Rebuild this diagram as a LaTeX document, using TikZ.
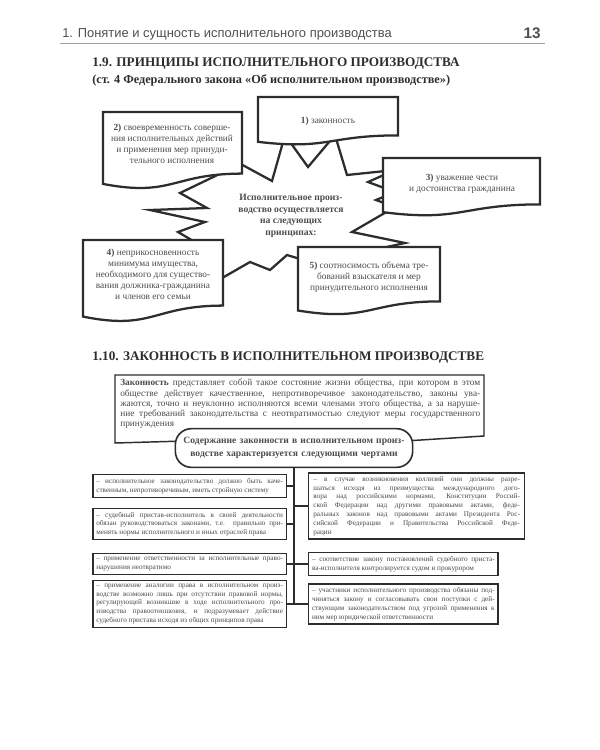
\documentclass[tikz,border=0pt]{standalone}
\usepackage{fontspec}
\setmainfont{Liberation Serif}
\newfontfamily\runfont{Liberation Sans}
\definecolor{ink}{HTML}{2A2F2C}
\definecolor{txt}{HTML}{4B4B4B}
\definecolor{runner}{HTML}{505050}
\definecolor{rulegray}{HTML}{A0A0A0}
\hyphenpenalty=10000
\exhyphenpenalty=10000
\tolerance=10000
\newcommand{\docshape}[4]{%
  \draw[docline] (#1,#2) -- (#3,#2) -- (#3,{#2+0.80*#4})
    .. controls ({(#1+#3)/2},{#2+0.80*#4}) and ({(#1+#3)/2},{#2+1.107*#4}) .. (#1,{#2+0.934*#4}) -- cycle;}

\begin{document}
\begin{tikzpicture}[x=0.75pt, y=-0.75pt,
  docline/.style={draw=ink, line width=1.7pt, fill=white, line join=miter},
  starline/.style={draw=ink, line width=1.7pt, fill=white, line join=miter},
  principle/.style={text=txt, align=center, inner sep=0pt, font=\fontsize{7}{8.3}\selectfont},
  hub/.style={text=ink!85, align=center, inner sep=0pt, font=\bfseries\fontsize{7.2}{8.8}\selectfont},
  runhead/.style={text=runner, inner sep=0pt, font=\runfont\fontsize{9.7}{11}\selectfont},
  heading/.style={anchor=base west, inner sep=0pt, text=ink, font=\bfseries\fontsize{9.9}{12}\selectfont},
  subheading/.style={anchor=base west, inner sep=0pt, text=ink, font=\bfseries\fontsize{9.2}{11}\selectfont},
  frameline/.style={draw=ink, line width=1.1pt, fill=white},
  defn/.style={text=txt, align=justify, anchor=north west, inner sep=0pt, text width=270pt, font=\fontsize{7}{7.6}\selectfont},
  lawbox/.style={draw=ink, line width=1.2pt, fill=white, rounded corners=12pt, text=ink!85, align=center,
    text width=170pt, inner xsep=4pt, minimum height=29pt, font=\bfseries\fontsize{7.2}{9.6}\selectfont},
  featL/.style={draw=ink, line width=1pt, fill=white, text=txt, align=justify, anchor=east,
    text width=140pt, inner xsep=2.5pt, inner ysep=2.6pt, font=\fontsize{5.4}{6.6}\selectfont},
  featR/.style={featL, anchor=west, text width=137pt},
  link/.style={draw=ink, line width=1.1pt}]
\fill[white] (0,0) rectangle (600,750);
\useasboundingbox (0,0) rectangle (600,750);

\node[runhead, anchor=base west] (run) at (62,37) {1. Понятие и сущность исполнительного производства};
\node[runhead, anchor=base east, font=\runfont\bfseries\fontsize{11.5}{13}\selectfont] (folio) at (541,38) {13};
\draw[rulegray, line width=0.5pt] (60,43) -- (545,43);

\node[heading] (title9) at (92,66) {1.9. ПРИНЦИПЫ ИСПОЛНИТЕЛЬНОГО ПРОИЗВОДСТВА};
\node[subheading] (law4) at (92,83) {(ст. 4 Федерального закона «Об исполнительном производстве»)};

\draw[starline] (215,150) -- (272,181) -- (285,135) -- (308,167) -- (335,135) -- (347,175) -- (395,170)
  -- (368,182) -- (395,192) -- (376,200) -- (395,207) -- (352,232) -- (405,243) -- (350,255) -- (310,262)
  -- (287,255) -- (270,270) -- (250,262) -- (210,285) -- (200,245) -- (178,232) -- (205,222) -- (150,210)
  -- (207,208) -- (180,193) -- (232,168) -- cycle;

\docshape{258}{97}{398}{48}
\docshape{103}{112}{242}{77}
\docshape{383}{158}{540}{58}
\docshape{83}{240}{223}{82}
\docshape{298}{247}{440}{68}

\node[principle] (p1) at (328,121) {\textbf{1)} законность};
\node[principle] (p2) at (172,144) {\textbf{2)} своевременность соверше-\\ния исполнительных действий\\и применения мер принуди-\\тельного исполнения};
\node[principle] (p3) at (462,184) {\textbf{3)} уважение чести\\и достоинства гражданина};
\node[principle] (p4) at (153,274) {\textbf{4)} неприкосновенность\\минимума имущества,\\необходимого для существо-\\вания должника-гражданина\\и членов его семьи};
\node[principle] (p5) at (369,277) {\textbf{5)} соотносимость объема тре-\\бований взыскателя и мер\\принудительного исполнения};
\node[hub] (core) at (291,216) {Исполнительное произ-\\водство осуществляется\\на следующих\\принципах:};

\node[heading] (title10) at (92,360) {1.10. ЗАКОННОСТЬ В ИСПОЛНИТЕЛЬНОМ ПРОИЗВОДСТВЕ};

\draw[frameline] (115,375) -- (484,375) -- (484,436) -- (405,441) -- (185,441) -- (115,443) -- cycle;
\node[defn] (defn) at (120,379) {\textbf{Законность} представляет собой такое состояние жизни общества, при котором в этом\linebreak
  обществе действует качественное, непротиворечивое законодательство, законы ува-\linebreak
  жаются, точно и неуклонно исполняются всеми членами этого общества, а за наруше-\linebreak
  ние требований законодательства с неотвратимостью следуют меры государственного\linebreak
  принуждения};
\node[lawbox] (lawbox) at (294,448) {Содержание законности в исполнительном произ-\\водстве характеризуется следующими чертами};

\node[featL] (f1) at (287,486) {– исполнительное законодательство должно быть каче-\linebreak
  ственным, непротиворечивым, иметь стройную систему};
\node[featL] (f2) at (287,524) {– судебный пристав-исполнитель в своей деятельности\linebreak
  обязан руководствоваться законами, т.е. правильно при-\linebreak
  менять нормы исполнительного и иных отраслей права};
\node[featL] (f3) at (287,564) {– применение ответственности за исполнительные право-\linebreak
  нарушения неотвратимо};
\node[featL] (f4) at (287,604) {– применение аналогии права в исполнительном произ-\linebreak
  водстве возможно лишь при отсутствии правовой нормы,\linebreak
  регулирующей возникшие в ходе исполнительного про-\linebreak
  изводства правоотношения, и подразумевает действие\linebreak
  судебного пристава исходя из общих принципов права};
\node[featR, text width=155pt, inner xsep=3.5pt] (g1) at (308,506) {– в случае возникновения коллизий они должны разре-\linebreak
  шаться исходя из преимущества международного дого-\linebreak
  вора над российскими нормами, Конституции Россий-\linebreak
  ской Федерации над другими правовыми актами, феде-\linebreak
  ральных законов над правовыми актами Президента Рос-\linebreak
  сийской Федерации и Правительства Российской Феде-\linebreak
  рации};
\node[featR] (g2) at (308,564) {– соответствие закону постановлений судебного приста-\linebreak
  ва-исполнителя контролируется судом и прокурором};
\node[featR] (g3) at (308,604) {– участники исполнительного производства обязаны под-\linebreak
  чиняться закону и согласовывать свои поступки с дей-\linebreak
  ствующим законодательством под угрозой применения к\linebreak
  ним мер юридической ответственности};

\draw[link] (lawbox.south) -- (lawbox.south |- f4.east);
\draw[link] (f1.east) -- (f1.east -| lawbox.south);
\draw[link] (f2.east) -- (f2.east -| lawbox.south);
\draw[link] (lawbox.south |- g1.west) -- (g1.west);
\draw[link] (f3.east) -- (g2.west);
\draw[link] (f4.east) -- (g3.west);
\end{tikzpicture}
\end{document}
